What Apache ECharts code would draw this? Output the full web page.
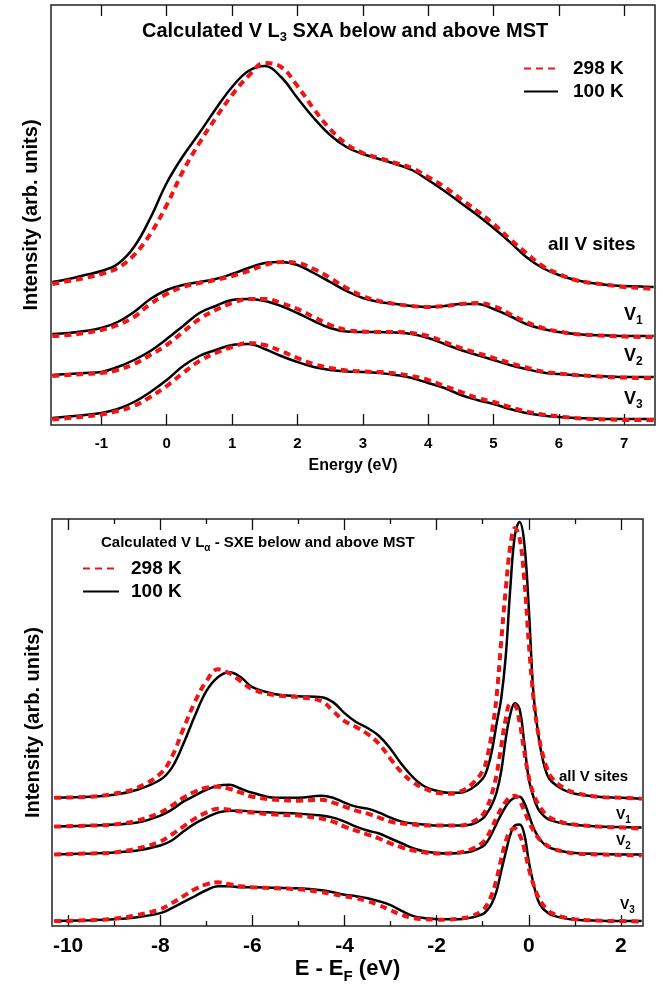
<!DOCTYPE html>
<html>
<head>
<meta charset="utf-8">
<script src="https://cdn.jsdelivr.net/npm/echarts@6/dist/echarts.min.js"></script>
<style>
  html, body { margin: 0; padding: 0; background: #fff; }
  #chart { width: 663px; height: 985px; }
</style>
</head>
<body>
<div id="chart"></div>
<script>
// ---- top panel: V L3 SXA (energy in eV) ----
var topEnergy = [-1.75, -1.5, -1.25, -1, -0.75, -0.5, -0.25, 0, 0.25, 0.5, 0.75, 1, 1.25, 1.5, 1.75, 2, 2.25, 2.5, 2.75, 3,
  3.25, 3.5, 3.75, 4, 4.25, 4.5, 4.75, 5, 5.25, 5.5, 5.75, 6, 6.25, 6.5, 6.75, 7, 7.25, 7.45]
var topAll100 = [14.3, 14.6, 15.0, 15.4, 16.1, 17.8, 20.7, 24.2, 26.9, 29.2, 31.6, 33.8, 35.4, 35.9, 34.8, 32.7, 30.7, 29.0, 27.8, 27.1,
  26.6, 26.1, 25.5, 24.5, 23.4, 22.2, 21.0, 19.7, 18.3, 16.8, 15.7, 15.0, 14.5, 14.2, 14.0, 13.9, 13.85, 13.8]
var topAll298 = [14.1, 14.4, 14.7, 15.1, 15.7, 17.0, 19.1, 22.0, 25.4, 28.2, 30.7, 33.0, 34.9, 36.2, 35.8, 33.9, 31.6, 29.6, 28.1, 27.2,
  26.7, 26.2, 25.7, 24.8, 23.8, 22.6, 21.4, 20.1, 18.6, 17.2, 15.9, 15.1, 14.5, 14.2, 14.0, 13.8, 13.7, 13.6]
var topV1_100 = [9.1, 9.2, 9.4, 9.7, 10.3, 11.3, 12.6, 13.5, 14.0, 14.3, 14.6, 15.1, 15.7, 16.2, 16.3, 16.0, 15.2, 14.3, 13.4, 12.7,
  12.3, 12.1, 11.9, 11.8, 11.9, 12.1, 12.1, 11.6, 10.9, 10.1, 9.6, 9.3, 9.1, 9.0, 8.95, 8.9, 8.9, 8.9]
var topV1_298 = [8.9, 9.0, 9.2, 9.5, 10.0, 10.8, 12.1, 13.1, 13.8, 14.2, 14.5, 14.9, 15.4, 16.0, 16.3, 16.2, 15.6, 14.7, 13.7, 12.9,
  12.4, 12.1, 11.9, 11.8, 11.9, 12.1, 12.2, 11.9, 11.1, 10.3, 9.7, 9.35, 9.1, 9.0, 8.9, 8.85, 8.8, 8.8]
var topV2_100 = [5.0, 5.1, 5.2, 5.3, 5.8, 6.5, 7.4, 8.6, 9.9, 11.2, 11.9, 12.5, 12.6, 12.4, 11.9, 11.2, 10.4, 9.7, 9.35, 9.3,
  9.3, 9.25, 9.1, 8.7, 8.1, 7.5, 7.0, 6.5, 6.0, 5.6, 5.25, 5.1, 5.0, 4.9, 4.85, 4.8, 4.8, 4.8]
var topV2_298 = [4.9, 5.0, 5.1, 5.2, 5.5, 6.1, 7.0, 8.0, 9.3, 10.6, 11.5, 12.2, 12.6, 12.6, 12.2, 11.6, 10.8, 10.0, 9.5, 9.35,
  9.3, 9.3, 9.2, 8.9, 8.3, 7.7, 7.2, 6.7, 6.2, 5.75, 5.35, 5.15, 5.0, 4.9, 4.8, 4.75, 4.7, 4.7]
var topV3_100 = [0.7, 0.85, 1.0, 1.2, 1.6, 2.3, 3.3, 4.5, 5.9, 6.9, 7.5, 8.0, 8.1, 7.6, 6.9, 6.3, 5.8, 5.5, 5.35, 5.3,
  5.2, 5.0, 4.7, 4.2, 3.7, 3.0, 2.5, 2.1, 1.6, 1.2, 0.95, 0.8, 0.7, 0.65, 0.6, 0.6, 0.6, 0.6]
var topV3_298 = [0.55, 0.7, 0.85, 1.05, 1.4, 1.9, 2.8, 3.9, 5.2, 6.4, 7.2, 7.8, 8.2, 8.0, 7.4, 6.7, 6.1, 5.7, 5.45, 5.35,
  5.3, 5.15, 4.9, 4.5, 3.9, 3.3, 2.7, 2.3, 1.8, 1.35, 1.05, 0.85, 0.7, 0.6, 0.55, 0.5, 0.5, 0.5]
var topTicks = [-1, 0, 1, 2, 3, 4, 5, 6, 7]

// ---- bottom panel: V L-alpha SXE (E - EF in eV) ----
var botEnergy = [-10.3, -9.5, -9, -8.5, -8, -7.75, -7.5, -7.25, -7, -6.75, -6.5, -6.25, -6, -5.5, -5, -4.5, -4.25, -4, -3.75, -3.5,
  -3.25, -3, -2.75, -2.5, -2.25, -2, -1.75, -1.5, -1.25, -1, -0.9, -0.8, -0.7, -0.6, -0.5, -0.4, -0.3, -0.2, -0.1, 0,
  0.1, 0.2, 0.3, 0.4, 0.5, 0.75, 1, 1.5, 2, 2.45]
var botAll100 = [12.9, 13.0, 13.2, 13.7, 14.7, 15.9, 18.3, 21.1, 23.6, 25.0, 25.5, 25.0, 24.0, 23.3, 23.1, 23.0, 22.5, 21.4, 20.5, 19.9,
  19.1, 17.8, 16.2, 14.9, 14.0, 13.6, 13.4, 13.4, 13.8, 14.8, 15.8, 17.6, 20.3, 22.8, 27.1, 34.0, 39.3, 40.6, 38.6, 32.0,
  23.5, 19.5, 16.8, 15.2, 14.5, 13.7, 13.3, 13.0, 12.9, 12.8]
var botAll298 = [12.9, 13.0, 13.3, 13.9, 15.3, 17.0, 19.8, 22.5, 24.6, 25.8, 25.4, 24.6, 23.8, 23.2, 23.0, 22.6, 21.6, 20.6, 20.0, 19.3,
  18.3, 16.8, 15.4, 14.4, 13.8, 13.4, 13.3, 13.5, 14.2, 15.6, 17.0, 19.5, 23.0, 28.5, 33.8, 38.2, 40.0, 39.0, 35.0, 28.5,
  23.0, 19.5, 17.3, 15.8, 14.9, 13.9, 13.4, 13.0, 12.9, 12.8]
var botV1_100 = [10.0, 10.1, 10.2, 10.4, 11.1, 11.7, 12.5, 13.1, 13.7, 14.1, 14.2, 13.8, 13.4, 12.9, 12.9, 13.1, 12.9, 12.4, 12.0, 11.8,
  11.4, 10.9, 10.5, 10.3, 10.2, 10.1, 10.1, 10.1, 10.2, 10.8, 11.4, 12.2, 13.4, 15.5, 18.8, 21.3, 22.4, 21.8, 18.5, 14.8,
  13.0, 11.8, 11.2, 10.8, 10.6, 10.3, 10.15, 10.0, 9.95, 9.9]
var botV1_298 = [10.0, 10.1, 10.2, 10.6, 11.4, 12.1, 12.9, 13.5, 13.9, 14.0, 13.8, 13.4, 13.0, 12.7, 12.6, 12.7, 12.4, 12.0, 11.6, 11.3,
  10.9, 10.5, 10.3, 10.2, 10.1, 10.1, 10.1, 10.1, 10.4, 11.2, 12.0, 13.3, 15.2, 18.0, 20.8, 22.3, 22.2, 20.5, 17.6, 15.0,
  13.3, 12.3, 11.6, 11.1, 10.8, 10.4, 10.2, 10.0, 9.9, 9.8]
var botV2_100 = [7.2, 7.3, 7.4, 7.6, 8.1, 8.6, 9.5, 10.3, 10.9, 11.4, 11.6, 11.6, 11.5, 11.4, 11.3, 11.1, 10.9, 10.5, 10.0, 9.6,
  9.3, 8.8, 8.3, 7.8, 7.5, 7.35, 7.3, 7.35, 7.5, 8.0, 8.5, 9.3, 10.3, 11.2, 12.0, 12.6, 12.9, 13.0, 12.4, 11.2,
  9.9, 9.0, 8.4, 8.0, 7.8, 7.5, 7.35, 7.25, 7.2, 7.2]
var botV2_298 = [7.2, 7.3, 7.4, 7.8, 8.5, 9.2, 10.0, 10.8, 11.4, 11.8, 11.7, 11.5, 11.4, 11.2, 11.1, 10.8, 10.5, 10.0, 9.6, 9.2,
  8.8, 8.3, 7.9, 7.6, 7.4, 7.3, 7.3, 7.4, 7.7, 8.4, 9.0, 9.9, 10.9, 11.8, 12.5, 13.0, 13.1, 12.6, 11.6, 10.5,
  9.6, 8.9, 8.4, 8.1, 7.8, 7.5, 7.3, 7.2, 7.15, 7.1]
var botV3_100 = [0.5, 0.6, 0.7, 0.9, 1.3, 1.8, 2.4, 3.0, 3.6, 4.0, 4.0, 3.9, 3.9, 3.85, 3.8, 3.6, 3.4, 3.15, 3.0, 2.8,
  2.5, 2.1, 1.5, 1.0, 0.8, 0.7, 0.7, 0.7, 0.85, 1.2, 1.6, 2.3, 3.5, 5.5, 7.4, 9.2, 10.1, 10.2, 9.3, 6.5,
  4.3, 2.6, 1.8, 1.4, 1.1, 0.8, 0.65, 0.55, 0.5, 0.5]
var botV3_298 = [0.5, 0.6, 0.75, 1.1, 1.7, 2.3, 3.0, 3.7, 4.2, 4.4, 4.2, 4.0, 3.9, 3.8, 3.7, 3.4, 3.2, 3.0, 2.8, 2.5,
  2.1, 1.6, 1.1, 0.8, 0.7, 0.65, 0.65, 0.75, 1.0, 1.6, 2.2, 3.2, 4.7, 6.7, 8.5, 9.6, 9.8, 9.2, 7.8, 5.8,
  4.2, 3.0, 2.2, 1.7, 1.3, 0.9, 0.7, 0.55, 0.5, 0.45]
var botMajorTicks = [-10, -8, -6, -4, -2, 0, 2]
var botMinorTicks = [-9, -7, -5, -3, -1, 1]

var FONT = '"Liberation Sans", Arial, Helvetica, sans-serif'
var RED = '#f01414'

function pairs(xs, ys) {
  return xs.map(function (x, i) { return [x, ys[i]] })
}

function black(data, xi, yi) {
  return {
    name: '100 K', type: 'line', smooth: 0.4, symbol: 'none', xAxisIndex: xi, yAxisIndex: yi,
    data: data, z: 3, silent: true,
    lineStyle: { color: '#000', width: 2.5 }, itemStyle: { color: '#000' }
  }
}
function red(data, xi, yi) {
  return {
    name: '298 K', type: 'line', smooth: 0.4, symbol: 'none', xAxisIndex: xi, yAxisIndex: yi,
    data: data, z: 4, silent: true,
    lineStyle: { color: RED, width: 4, type: [7, 5] }, itemStyle: { color: RED }
  }
}

function tickAxis(grid, pos, min, max, ticks, len, labels, labelSize, name, nameGap) {
  return {
    type: 'value', gridIndex: grid, position: pos, min: min, max: max,
    axisLine: { show: false },
    splitLine: { show: false },
    axisTick: { show: true, inside: true, length: len, customValues: ticks, lineStyle: { color: '#111', width: 1.3 } },
    axisLabel: labels ? {
      show: true, customValues: ticks, fontSize: labelSize, fontWeight: 'bold', fontFamily: FONT, color: '#000', margin: labels
    } : { show: false },
    name: name || '', nameLocation: 'middle', nameGap: nameGap || 0,
    nameTextStyle: {
      fontFamily: FONT, fontWeight: 'bold', color: '#000', fontSize: 16,
      rich: {
        a: { fontFamily: FONT, fontWeight: 'bold', fontSize: 22, color: '#000', lineHeight: 30, verticalAlign: 'middle' },
        s: { fontFamily: FONT, fontWeight: 'bold', fontSize: 15, color: '#000', lineHeight: 15, verticalAlign: 'bottom' }
      }
    }
  }
}

function yAxisDef(grid, max, gap) {
  return {
    type: 'value', gridIndex: grid, min: 0, max: max,
    axisLine: { show: false }, axisTick: { show: false }, axisLabel: { show: false }, splitLine: { show: false },
    name: 'Intensity (arb. units)', nameLocation: 'middle', nameGap: gap,
    nameTextStyle: { fontFamily: FONT, fontWeight: 'bold', fontSize: 20, color: '#000' }
  }
}

var chart = echarts.init(document.getElementById('chart'), null, { renderer: 'canvas' })

var subRich = function (size, subSize) {
  return {
    a: { fontFamily: FONT, fontWeight: 'bold', fontSize: size, color: '#000', lineHeight: size + 6, verticalAlign: 'middle' },
    s: { fontFamily: FONT, fontWeight: 'bold', fontSize: subSize, color: '#000', lineHeight: subSize, verticalAlign: 'bottom' }
  }
}

chart.setOption({
  animation: false,
  backgroundColor: '#fff',
  title: [
    {
      text: '{a|Calculated V L}{s|3}{a| SXA below and above MST}',
      left: 142, top: 18, padding: 0,
      textStyle: { rich: subRich(20, 13) }
    },
    {
      text: '{a|Calculated V L}{s|α}{a| - SXE below and above MST}',
      left: 101, top: 532, padding: 0,
      textStyle: { rich: subRich(15, 10) }
    }
  ],
  legend: [
    {
      data: ['298 K', '100 K'], orient: 'vertical', left: 523, top: 59, padding: 0,
      itemWidth: 34, itemHeight: 14, itemGap: 4, selectedMode: false,
      itemStyle: { opacity: 0 },
      textStyle: { fontFamily: FONT, fontWeight: 'bold', fontSize: 19, color: '#000', lineHeight: 14, padding: [0, 0, 0, 10] }
    },
    {
      data: ['298 K', '100 K'], orient: 'vertical', left: 82, top: 559, padding: 0,
      itemWidth: 36, itemHeight: 14, itemGap: 4, selectedMode: false,
      itemStyle: { opacity: 0 },
      textStyle: { fontFamily: FONT, fontWeight: 'bold', fontSize: 19, color: '#000', lineHeight: 14, padding: [0, 0, 0, 7] }
    }
  ],
  grid: [
    { left: 51, right: 8, top: 5, height: 420, show: true, borderColor: '#222', borderWidth: 1.5, backgroundColor: 'transparent' },
    { left: 52, right: 20, top: 519, height: 409, show: true, borderColor: '#222', borderWidth: 1.5, backgroundColor: 'transparent' }
  ],
  xAxis: [
    tickAxis(0, 'bottom', -1.77, 7.47, topTicks, 11, 11, 15, 'Energy (eV)', 33),
    tickAxis(0, 'top', -1.77, 7.47, topTicks, 11, 0),
    tickAxis(1, 'bottom', -10.35, 2.48, botMajorTicks, 11, 10, 21, '{a|E - E}{s|F}{a| (eV)}', 27),
    tickAxis(1, 'bottom', -10.35, 2.48, botMinorTicks, 5, 0),
    tickAxis(1, 'top', -10.35, 2.48, botMajorTicks, 11, 0),
    tickAxis(1, 'top', -10.35, 2.48, botMinorTicks, 5, 0)
  ],
  yAxis: [yAxisDef(0, 42, 10), yAxisDef(1, 40.9, 9)],
  graphic: [
    { type: 'text', left: 548, top: 235, silent: true,
      style: { text: 'all V sites', font: 'bold 19px ' + FONT, fill: '#000' } },
    { type: 'text', left: 624, top: 306, silent: true,
      style: { text: '{a|V}{s|1}', rich: subRich(18, 12) } },
    { type: 'text', left: 624, top: 347, silent: true,
      style: { text: '{a|V}{s|2}', rich: subRich(18, 12) } },
    { type: 'text', left: 624, top: 390, silent: true,
      style: { text: '{a|V}{s|3}', rich: subRich(18, 12) } },
    { type: 'text', left: 559, top: 769, silent: true,
      style: { text: 'all V sites', font: 'bold 15px ' + FONT, fill: '#000' } },
    { type: 'text', left: 616, top: 808, silent: true,
      style: { text: '{a|V}{s|1}', rich: subRich(14, 10) } },
    { type: 'text', left: 616, top: 834, silent: true,
      style: { text: '{a|V}{s|2}', rich: subRich(14, 10) } },
    { type: 'text', left: 620, top: 898, silent: true,
      style: { text: '{a|V}{s|3}', rich: subRich(14, 10) } }
  ],
  series: [
    black(pairs(topEnergy, topAll100), 0, 0), red(pairs(topEnergy, topAll298), 0, 0),
    black(pairs(topEnergy, topV1_100), 0, 0), red(pairs(topEnergy, topV1_298), 0, 0),
    black(pairs(topEnergy, topV2_100), 0, 0), red(pairs(topEnergy, topV2_298), 0, 0),
    black(pairs(topEnergy, topV3_100), 0, 0), red(pairs(topEnergy, topV3_298), 0, 0),
    black(pairs(botEnergy, botAll100), 2, 1), red(pairs(botEnergy, botAll298), 2, 1),
    black(pairs(botEnergy, botV1_100), 2, 1), red(pairs(botEnergy, botV1_298), 2, 1),
    black(pairs(botEnergy, botV2_100), 2, 1), red(pairs(botEnergy, botV2_298), 2, 1),
    black(pairs(botEnergy, botV3_100), 2, 1), red(pairs(botEnergy, botV3_298), 2, 1)
  ]
})
</script>
</body>
</html>
